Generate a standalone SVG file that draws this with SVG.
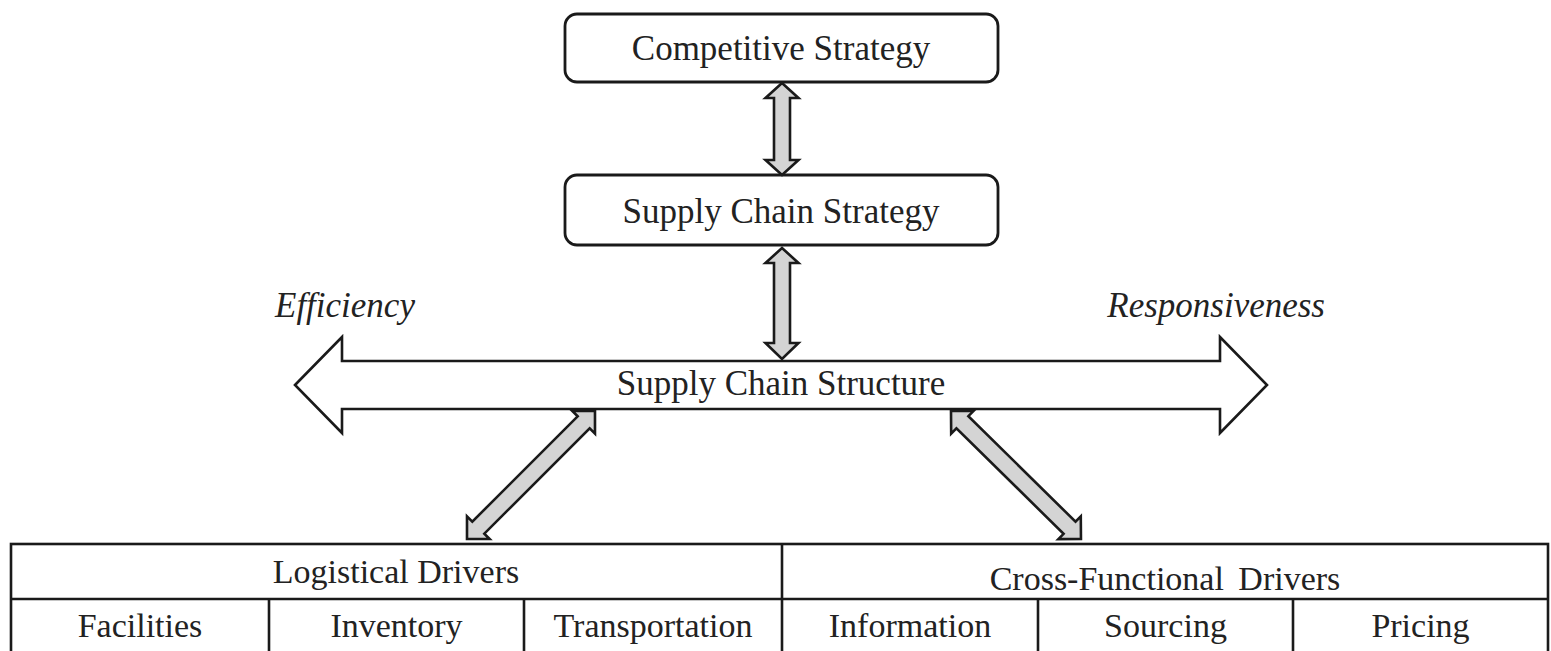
<svg xmlns="http://www.w3.org/2000/svg" width="1551" height="651" viewBox="0 0 1551 651">
  <style>
    .box { fill: #ffffff; stroke: #1a1a1a; stroke-width: 2.8; }
    .link { fill: #d4d4d4; stroke: #1a1a1a; stroke-width: 2.6; stroke-linejoin: miter; }
    .wide { fill: #ffffff; stroke: #1a1a1a; stroke-width: 2.6; stroke-linejoin: miter; }
    .grid { fill: none; stroke: #1a1a1a; stroke-width: 2.6; }
    .label { font-family: "Liberation Serif", "Times New Roman", serif; font-size: 35px; fill: #222222; text-anchor: middle; }
    .cell { font-family: "Liberation Serif", "Times New Roman", serif; font-size: 34px; fill: #222222; text-anchor: middle; }
    .end { font-family: "Liberation Serif", "Times New Roman", serif; font-size: 35px; font-style: italic; fill: #222222; }
  </style>
  <defs>
    <!-- double-headed link, drawn along +x from 0 to 181 -->
    <polygon id="dbl181" points="0,0 16,-16 16,-8.5 165,-8.5 165,-16 181,0 165,16 165,8.5 16,8.5 16,16"/>
    <polygon id="dbl182" points="0,0 16,-16 16,-8.5 166.4,-8.5 166.4,-16 182.4,0 166.4,16 166.4,8.5 16,8.5 16,16"/>
  </defs>

  <g id="competitive-strategy">
    <rect class="box" x="565" y="14" width="433" height="68" rx="12"/>
    <text class="label" x="781" y="60">Competitive Strategy</text>
  </g>

  <g id="supply-chain-strategy">
    <rect class="box" x="565" y="175" width="433" height="70" rx="12"/>
    <text class="label" x="781" y="223">Supply Chain Strategy</text>
  </g>

  <g id="supply-chain-structure">
    <polygon class="wide" points="295,385 342,337 342,361 1220,361 1220,337 1267,385 1220,433 1220,409 342,409 342,433"/>
    <text class="label" x="781" y="395">Supply Chain Structure</text>
  </g>

  <g id="efficiency">
    <text class="end" x="275" y="317">Efficiency</text>
  </g>
  <g id="responsiveness">
    <text class="end" x="1325" y="317" text-anchor="end">Responsiveness</text>
  </g>

  <g id="connectors">
    <polygon class="link" points="782,83 798.5,98 790,98 790,160 798.5,160 782,175 765.5,160 774,160 774,98 765.5,98"/>
    <polygon class="link" points="782,248 798.5,263 790,263 790,343 798.5,343 782,359 765.5,343 774,343 774,263 765.5,263"/>
    <use href="#dbl181" class="link" transform="translate(467,539) rotate(-45)"/>
    <use href="#dbl182" class="link" transform="translate(951,411) rotate(44.56)"/>
  </g>

  <g id="drivers-table">
    <rect class="grid" x="11" y="544" width="1537" height="130"/>
    <line class="grid" x1="11" y1="599" x2="1548" y2="599"/>
    <line class="grid" x1="782" y1="544" x2="782" y2="660"/>
    <line class="grid" x1="269" y1="599" x2="269" y2="660"/>
    <line class="grid" x1="524" y1="599" x2="524" y2="660"/>
    <line class="grid" x1="1038" y1="599" x2="1038" y2="660"/>
    <line class="grid" x1="1293" y1="599" x2="1293" y2="660"/>
  </g>

  <g id="logistical-drivers">
    <text class="cell" x="396" y="583">Logistical Drivers</text>
  </g>
  <g id="cross-functional-drivers">
    <text class="cell" x="1165" y="590" word-spacing="6">Cross-Functional Drivers</text>
  </g>
  <g id="facilities"><text class="cell" x="140" y="637">Facilities</text></g>
  <g id="inventory"><text class="cell" x="396.5" y="637">Inventory</text></g>
  <g id="transportation"><text class="cell" x="653" y="637">Transportation</text></g>
  <g id="information"><text class="cell" x="910" y="637">Information</text></g>
  <g id="sourcing"><text class="cell" x="1165.5" y="637">Sourcing</text></g>
  <g id="pricing"><text class="cell" x="1420.5" y="637">Pricing</text></g>
</svg>
